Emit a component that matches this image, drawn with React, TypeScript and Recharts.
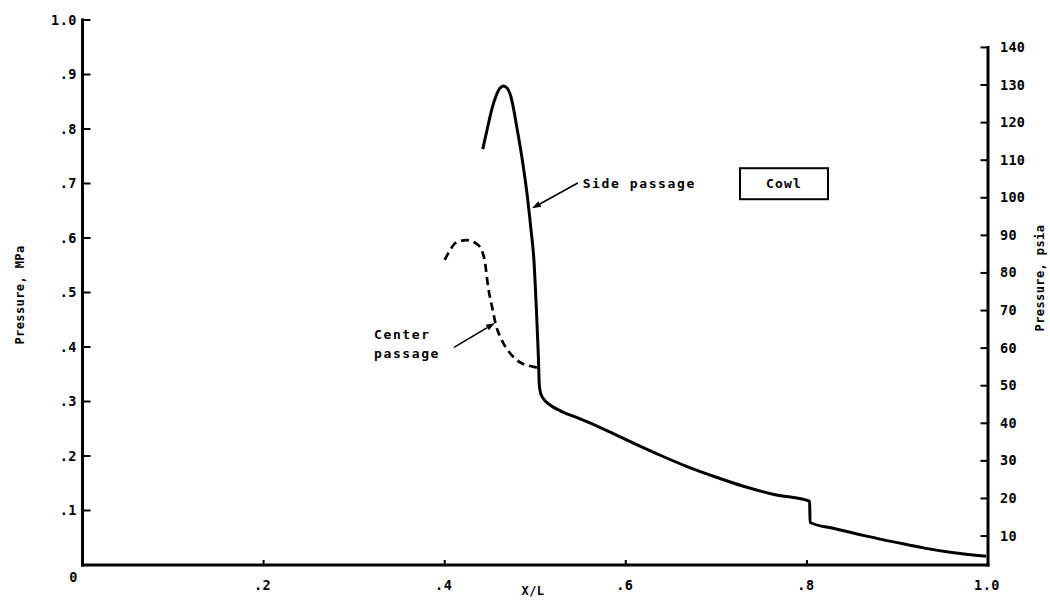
import React from 'react';
import { LineChart, Line, XAxis, YAxis, ReferenceLine, ReferenceDot, Label } from 'recharts';

// ---- axis ticks ----
const xTicks = [0, 0.2, 0.4, 0.6, 0.8, 1.0];
const xTickLabels = ['0', '.2', '.4', '.6', '.8', '1.0'];
const mpaTicks = [0.1, 0.2, 0.3, 0.4, 0.5, 0.6, 0.7, 0.8, 0.9, 1.0];
const mpaTickLabels = ['.1', '.2', '.3', '.4', '.5', '.6', '.7', '.8', '.9', '1.0'];
const psiTicks = [10, 20, 30, 40, 50, 60, 70, 80, 90, 100, 110, 120, 130, 140];
const psiTickLabels = ['10', '20', '30', '40', '50', '60', '70', '80', '90', '100', '110', '120', '130', '140'];
const psiDomain = [2.3, 147.3];

// ---- side passage (solid) ----
const sideX = [0.442, 0.447, 0.452, 0.457, 0.461, 0.465, 0.469, 0.473, 0.480, 0.486, 0.491, 0.495, 0.4985, 0.5015, 0.5035, 0.5045, 0.506, 0.509, 0.516, 0.530, 0.547, 0.557, 0.585, 0.612, 0.640, 0.667, 0.700, 0.729, 0.765, 0.803, 0.8035, 0.830, 0.866, 0.900, 0.930, 0.960, 0.998];
const sideY = [0.763, 0.800, 0.836, 0.862, 0.875, 0.879, 0.875, 0.860, 0.800, 0.740, 0.680, 0.620, 0.560, 0.460, 0.380, 0.330, 0.315, 0.305, 0.294, 0.281, 0.270, 0.263, 0.242, 0.221, 0.200, 0.181, 0.161, 0.145, 0.129, 0.117, 0.078, 0.067, 0.053, 0.041, 0.031, 0.023, 0.016];

// ---- center passage (dashed) ----
const centerX = [0.400, 0.406, 0.412, 0.424, 0.437, 0.444, 0.448, 0.453, 0.456, 0.463, 0.472, 0.483, 0.500, 0.504];
const centerY = [0.560, 0.578, 0.591, 0.596, 0.587, 0.560, 0.510, 0.468, 0.444, 0.413, 0.389, 0.372, 0.363, 0.361];

const sideData = sideX.map((x, i) => ({ x, y: sideY[i] }));
const centerData = centerX.map((x, i) => ({ x, y: centerY[i] }));

// ---- annotation anchors (data coordinates) ----
const sideLeader = [{ x: 0.547, y: 0.701 }, { x: 0.4964, y: 0.6545 }];
const centerLeader = [{ x: 0.4103, y: 0.3994 }, { x: 0.4555, y: 0.444 }];
const sideTextAt = { x: 0.5524, y: 0.7004 };
const centerTextAt = { x: 0.3220, y: 0.405 };
const cowlAt = { x: 0.7747, y: 0.6996 };

const FONT = '"DejaVu Sans Mono", "Liberation Mono", monospace';

const txt = (size: number, spacing: number) => ({
  fontFamily: FONT,
  fontWeight: 700,
  fontSize: size,
  letterSpacing: spacing,
  fill: '#000',
});

const LeftTick = (p: any) => {
  const i = mpaTicks.indexOf(p.payload.value);
  return (
    <g>
      <line x1={p.x} y1={p.y} x2={p.x + 8} y2={p.y} stroke="#000" strokeWidth={2} />
      <text x={p.x - 5.5} y={p.y} dy={4.5} textAnchor="end" style={txt(13.5, 0.5)}>
        {mpaTickLabels[i]}
      </text>
    </g>
  );
};

const RightTick = (p: any) => {
  const i = psiTicks.indexOf(p.payload.value);
  return (
    <g>
      <line x1={p.x} y1={p.y} x2={p.x - 7.5} y2={p.y} stroke="#000" strokeWidth={2} />
      <text x={p.x + 12} y={p.y} dy={4.5} textAnchor="start" style={txt(13.5, 0.3)}>
        {psiTickLabels[i]}
      </text>
    </g>
  );
};

const BottomTick = (p: any) => {
  const i = xTicks.indexOf(p.payload.value);
  const isZero = p.payload.value === 0;
  return (
    <g>
      <line x1={p.x} y1={p.y} x2={p.x} y2={p.y - 5} stroke="#000" strokeWidth={2} />
      <text x={p.x + (isZero ? -9 : -1)} y={p.y + (isZero ? 12 : 20)} dy={4.5} textAnchor="middle" style={txt(13.5, 0.5)}>
        {xTickLabels[i]}
      </text>
    </g>
  );
};

const Arrow = (props: any) => {
  const { x1, y1, x2, y2 } = props;
  const ang = Math.atan2(y2 - y1, x2 - x1);
  const L = 9;
  const W = 3.2;
  const bx = x2 - L * Math.cos(ang);
  const by = y2 - L * Math.sin(ang);
  const px = -Math.sin(ang) * W;
  const py = Math.cos(ang) * W;
  return (
    <g>
      <line x1={x1} y1={y1} x2={bx} y2={by} stroke="#000" strokeWidth={1.6} />
      <polygon points={`${x2},${y2} ${bx + px},${by + py} ${bx - px},${by - py}`} fill="#000" />
    </g>
  );
};

const PlainSeg = (props: any) => (
  <line x1={props.x1} y1={props.y1} x2={props.x2} y2={props.y2} stroke="#000" strokeWidth={3} strokeLinecap="square" />
);

const SideText = (p: any) => (
  <text x={p.cx} y={p.cy} dy={4.5} textAnchor="start" style={txt(13, 1.6)}>Side passage</text>
);

const CenterText = (p: any) => (
  <g>
    <text x={p.cx} y={p.cy - 9.5} dy={4.5} textAnchor="start" style={txt(13, 1.6)}>Center</text>
    <text x={p.cx} y={p.cy + 9.5} dy={4.5} textAnchor="start" style={txt(13, 1.6)}>passage</text>
  </g>
);

const CowlBox = (p: any) => (
  <g>
    <rect x={p.cx - 44} y={p.cy - 15.5} width={88} height={31} fill="#fff" stroke="#000" strokeWidth={2} />
    <text x={p.cx} y={p.cy} dy={4.5} textAnchor="middle" style={txt(13, 1.2)}>Cowl</text>
  </g>
);

export default function App() {
  return (
    <div style={{ position: 'absolute', left: 0, top: 0, width: 1050, height: 601, background: '#fff' }}>
      <LineChart width={1050} height={601} margin={{ top: 20, right: 2, bottom: 6, left: 22.5 }}>
        <XAxis
          dataKey="x"
          type="number"
          domain={[0, 1]}
          ticks={xTicks}
          height={30}
          tickSize={0}
          tickMargin={0}
          tickLine={false}
          tick={BottomTick}
          axisLine={{ stroke: '#000', strokeWidth: 3, strokeLinecap: 'square' }}
          allowDataOverflow
        >
          <Label
            content={(p: any) => (
              <text x={p.viewBox.x + 450.5} y={p.viewBox.y + 25} dy={4.5} textAnchor="middle" style={txt(12, 0.5)}>
                X/L
              </text>
            )}
          />
        </XAxis>
        <YAxis
          yAxisId="mpa"
          orientation="left"
          type="number"
          domain={[0, 1]}
          ticks={mpaTicks}
          width={60}
          tickSize={0}
          tickMargin={0}
          tickLine={false}
          tick={LeftTick}
          axisLine={{ stroke: '#000', strokeWidth: 3, strokeLinecap: 'square' }}
          allowDataOverflow
        >
          <Label
            content={(p: any) => {
              const cx = p.viewBox.x - 3;
              const cy = p.viewBox.y + 275;
              return (
                <text x={cx} y={cy} textAnchor="middle" dominantBaseline="central" transform={`rotate(-90 ${cx} ${cy})`} style={txt(12, 0.4)}>
                  Pressure, MPa
                </text>
              );
            }}
          />
        </YAxis>
        <YAxis
          yAxisId="psi"
          orientation="right"
          type="number"
          domain={psiDomain}
          ticks={psiTicks}
          width={60}
          tickSize={0}
          tickMargin={0}
          tickLine={false}
          tick={RightTick}
          axisLine={false}
          allowDataOverflow
        >
          <Label
            content={(p: any) => {
              const cx = p.viewBox.x + 52;
              const cy = p.viewBox.y + 258;
              return (
                <text x={cx} y={cy} textAnchor="middle" dominantBaseline="central" transform={`rotate(-90 ${cx} ${cy})`} style={txt(12, 0.4)}>
                  Pressure, psia
                </text>
              );
            }}
          />
        </YAxis>

        <ReferenceLine
          yAxisId="psi"
          segment={[{ x: 1, y: psiDomain[0] }, { x: 1, y: 140 }]}
          shape={PlainSeg}
          ifOverflow="visible"
        />

        <Line
          yAxisId="mpa"
          data={centerData}
          dataKey="y"
          type="monotoneX"
          stroke="#000"
          strokeWidth={2.7}
          strokeDasharray="8 5"
          dot={false}
          activeDot={false}
          isAnimationActive={false}
        />
        <Line
          yAxisId="mpa"
          data={sideData}
          dataKey="y"
          type="monotoneX"
          stroke="#000"
          strokeWidth={3}
          dot={false}
          activeDot={false}
          isAnimationActive={false}
        />

        <ReferenceLine yAxisId="mpa" segment={sideLeader} shape={Arrow} ifOverflow="visible" />
        <ReferenceLine yAxisId="mpa" segment={centerLeader} shape={Arrow} ifOverflow="visible" />
        <ReferenceDot yAxisId="mpa" x={sideTextAt.x} y={sideTextAt.y} r={1} shape={SideText} ifOverflow="visible" />
        <ReferenceDot yAxisId="mpa" x={centerTextAt.x} y={centerTextAt.y} r={1} shape={CenterText} ifOverflow="visible" />
        <ReferenceDot yAxisId="mpa" x={cowlAt.x} y={cowlAt.y} r={1} shape={CowlBox} ifOverflow="visible" />
      </LineChart>
    </div>
  );
}
